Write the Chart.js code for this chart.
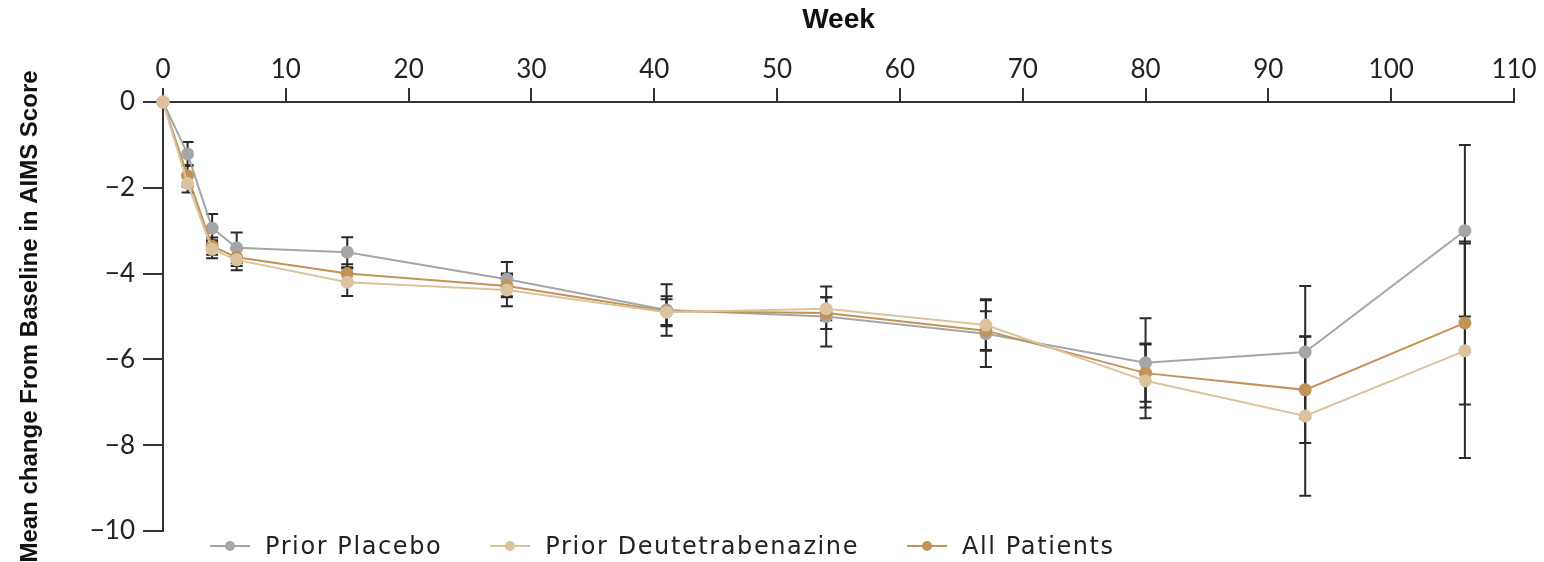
<!DOCTYPE html>
<html>
<head>
<meta charset="utf-8">
<script src="https://cdn.jsdelivr.net/npm/chart.js@4.4.1/dist/chart.umd.min.js"></script>
<style>
  html, body { margin: 0; padding: 0; background: #fff; }
  #wrap { position: relative; width: 1544px; height: 562px; }
  #legend { position: absolute; left: 210px; top: 532px; display: flex; align-items: center;
            font-family: "DejaVu Sans", sans-serif; font-size: 24px; letter-spacing: 1.6px; color: #222; }
  .item { display: flex; align-items: center; margin-right: 48px; }
  .mark { position: relative; width: 40px; height: 14px; margin-right: 15px; }
  .mark .ln { position: absolute; left: 0; right: 0; top: 6px; height: 2px; }
  .mark .dot { position: absolute; left: 15px; top: 2px; width: 10px; height: 10px; border-radius: 50%; }
</style>
</head>
<body>
<div id="wrap">
  <canvas id="ex_chart" width="1544" height="562"></canvas>
  <div id="legend"></div>
</div>
<script>
// weeks on the x axis
let weeks = [0, 2, 4, 6, 15, 28, 41, 54, 67, 80, 93, 106];

let seriesLabels = ['Prior Placebo', 'Prior Deutetrabenazine', 'All Patients'];
let colors = ['#a6a6a6', '#dcc29e', '#c09358'];

// mean change from baseline
let placebo = [0, -1.21, -2.94, -3.40, -3.50, -4.13, -4.85, -5.00, -5.40, -6.08, -5.83, -3.00];
let priorDeut = [0, -1.90, -3.43, -3.68, -4.20, -4.38, -4.90, -4.82, -5.20, -6.50, -7.32, -5.80];
let allPatients = [0, -1.72, -3.36, -3.62, -4.00, -4.29, -4.88, -4.92, -5.33, -6.32, -6.71, -5.15];

// error bar half lengths
let placeboErr = [0, 0.28, 0.33, 0.36, 0.35, 0.40, 0.60, 0.70, 0.78, 1.04, 1.54, 2.00];
let priorDeutErr = [0, 0.21, 0.21, 0.24, 0.32, 0.38, 0.30, 0.27, 0.60, 0.87, 1.86, 2.50];
let allPatientsErr = [0, 0.25, 0.20, 0.20, 0.22, 0.26, 0.35, 0.37, 0.45, 0.67, 1.24, 1.90];

let xTicks = [0, 10, 20, 30, 40, 50, 60, 70, 80, 90, 100, 110];
let yTicks = [0, -2, -4, -6, -8, -10];

let values = [placebo, priorDeut, allPatients];
let errs = [placeboErr, priorDeutErr, allPatientsErr];
let drawOrder = [2, 0, 1];

let ctx = document.getElementById('ex_chart');

let data = {
  datasets: values.map((v, k) => ({
    label: seriesLabels[k],
    data: weeks.map((w, i) => ({x: w, y: v[i]})),
    errors: errs[k],
    borderColor: colors[k],
    backgroundColor: colors[k],
    pointBackgroundColor: colors[k],
    pointBorderWidth: 0,
    pointRadius: 6.5,
    borderWidth: 2,
    order: drawOrder[k],
    clip: false
  }))
};

// vertical error bars with caps, under the points
const errorBars = {
  id: 'errorBars',
  beforeDatasetsDraw(chart) {
    const c = chart.ctx, x = chart.scales.x, y = chart.scales.y;
    c.save();
    c.strokeStyle = '#2a2a2a';
    c.lineWidth = 2;
    chart.data.datasets.forEach(ds => {
      ds.data.forEach((p, i) => {
        const e = ds.errors[i];
        if (!e) return;
        const px = x.getPixelForValue(p.x);
        const t = y.getPixelForValue(p.y + e);
        const b = y.getPixelForValue(p.y - e);
        c.beginPath();
        c.moveTo(px, t); c.lineTo(px, b);
        c.moveTo(px - 6, t); c.lineTo(px + 6, t);
        c.moveTo(px - 6, b); c.lineTo(px + 6, b);
        c.stroke();
      });
    });
    c.restore();
  }
};

let tickFont = {family: 'Lato', size: 26};

let options = {
  responsive: false,
  animation: false,
  layout: {padding: {left: 0, right: 30, top: 0, bottom: 31}},
  plugins: {legend: {display: false}, tooltip: {enabled: false}},
  scales: {
    x: {
      type: 'linear',
      position: 'top',
      min: 0, max: 110,
      afterBuildTicks: s => { s.ticks = xTicks.map(v => ({value: v})); },
      afterFit: s => { s.height = 102; },
      ticks: {color: '#222', font: tickFont, padding: 3, maxRotation: 0},
      grid: {drawOnChartArea: false, tickLength: 14, tickColor: '#333', lineWidth: 2},
      border: {color: '#333', width: 2},
      title: {display: true, text: 'Week', color: '#111',
              font: {family: 'Liberation Sans', weight: 'bold', size: 28}, padding: {top: 3, bottom: 0}}
    },
    y: {
      min: -10, max: 0,
      afterBuildTicks: s => { s.ticks = yTicks.map(v => ({value: v})); },
      afterFit: s => { s.width = 163; },
      ticks: {color: '#222', font: tickFont, padding: 8,
              callback: v => String(v).replace('-', '\u2212')},
      grid: {drawOnChartArea: false, tickLength: 20, tickColor: '#333', lineWidth: 2},
      border: {color: '#333', width: 2},
      title: {display: true, text: 'Mean change From Baseline in AIMS Score', color: '#111',
              font: {family: 'Liberation Sans', weight: 'bold', size: 24}, padding: {top: 16, bottom: 0}}
    }
  }
};

let ex_chart = new Chart(ctx, {
  type: 'line',
  data: data,
  options: options,
  plugins: [errorBars]
});

// legend below the plot
let legend = document.getElementById('legend');
seriesLabels.forEach((name, k) => {
  let item = document.createElement('div');
  item.className = 'item';
  item.innerHTML = '<span class="mark"><span class="ln" style="background:' + colors[k] + '"></span>' +
    '<span class="dot" style="background:' + colors[k] + '"></span></span><span>' + name + '</span>';
  legend.appendChild(item);
});
</script>
</body>
</html>
